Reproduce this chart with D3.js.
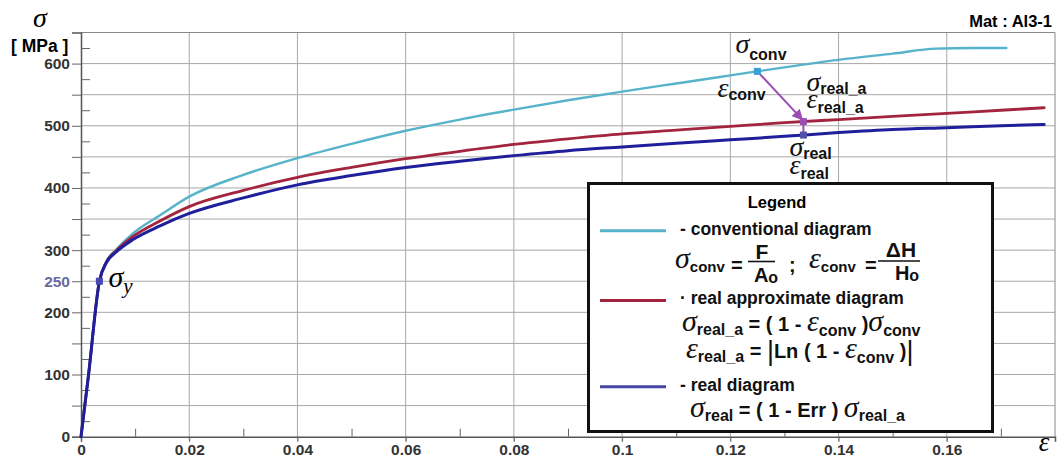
<!DOCTYPE html>
<html>
<head>
<meta charset="utf-8">
<script src="https://cdn.jsdelivr.net/npm/d3@7"></script>
<style>
  html, body { margin: 0; padding: 0; background: #fff; }
  svg { display: block; }
  .tick text { font-family: "Liberation Sans", Arial, sans-serif; font-weight: bold; font-size: 15.5px; fill: #333; }
  .gr { font-family: "Liberation Serif", "DejaVu Serif", serif; font-style: italic; }
  .sb { font-family: "Liberation Sans", Arial, sans-serif; font-weight: bold; }
  .sr { font-family: "Liberation Sans", Arial, sans-serif; font-weight: normal; }
</style>
</head>
<body>
<svg id="chart" width="1057" height="457"></svg>
<script>
// Strain (-) and stress (MPa) for the three diagrams of Al3-1
const strainConv = [0, 0.0014, 0.0034, 0.0047, 0.0065, 0.0096, 0.0146, 0.02, 0.03, 0.04, 0.05, 0.06, 0.07, 0.08, 0.09, 0.10, 0.11, 0.12, 0.13, 0.14, 0.15, 0.158, 0.165, 0.171];
const stressConv = [0, 100, 250, 282, 301, 327, 356, 386, 421, 448, 471, 492, 510, 526, 541, 555, 568, 581, 594, 606, 616, 624, 625, 625];

const strainRealA = [0, 0.0014, 0.0034, 0.0047, 0.0065, 0.0096, 0.0146, 0.02, 0.03, 0.04, 0.05, 0.06, 0.07, 0.08, 0.09, 0.10, 0.11, 0.12, 0.13, 0.14, 0.15, 0.16, 0.17, 0.178];
const stressRealA = [0, 100, 250, 281, 299, 322, 347, 370, 396, 417, 433, 447, 459, 470, 479, 487, 493, 499, 505, 510, 515, 520, 525, 529];

const strainReal = [0, 0.0014, 0.0034, 0.0047, 0.0065, 0.0096, 0.0146, 0.02, 0.03, 0.04, 0.05, 0.06, 0.07, 0.08, 0.09, 0.10, 0.11, 0.12, 0.13, 0.14, 0.15, 0.16, 0.17, 0.178];
const stressReal = [0, 100, 250, 280, 297, 317, 339, 359, 384, 405, 420, 433, 443, 452, 460, 466, 472, 477.5, 483, 489, 494, 497, 500, 502];

// Yield point and the conversion example
const yieldStrain = 0.0034, yieldStress = 250;
const convPointStrain = 0.125;
const realPointStrain = 0.1335;

// Axis ticks
const xTickLabels = [0, 0.02, 0.04, 0.06, 0.08, 0.1, 0.12, 0.14, 0.16];
const xMinorTicks = [0.01, 0.03, 0.05, 0.07, 0.09, 0.11, 0.13, 0.15, 0.17];
const xGrid = [0.02, 0.04, 0.06, 0.08, 0.1, 0.12, 0.14, 0.16];
const yTickLabels = [0, 100, 200, 250, 300, 400, 500, 600];
const yMajor = [0, 50, 100, 150, 200, 250, 300, 350, 400, 450, 500, 550, 600];
const yMinor = [25, 75, 125, 175, 225, 275, 325, 375, 425, 475, 525, 575, 625];

const C_CONV = "#57b3ca", C_REALA = "#a3243e", C_REAL = "#1f1f9c", C_ARROW = "#9b4db4";

const svg = d3.select("#chart");
const x = d3.scaleLinear().domain([0, 0.18]).range([81, 1055]);
const y = d3.scaleLinear().domain([0, 650]).range([436.7, 32.5]);

// grid
const grid = svg.append("g").attr("stroke", "#a8a8a8").attr("stroke-width", 1);
grid.selectAll(".vx").data(xGrid).join("line")
  .attr("x1", d => x(d)).attr("x2", d => x(d)).attr("y1", y(650)).attr("y2", y(0) + 5);
grid.selectAll(".hy").data(yMajor.slice(1)).join("line")
  .attr("x1", x(0)).attr("x2", x(0.18)).attr("y1", d => y(d)).attr("y2", d => y(d));
// frame top and right
svg.append("line").attr("x1", x(0)).attr("x2", x(0.18)).attr("y1", y(650)).attr("y2", y(650)).attr("stroke", "#888");
svg.append("line").attr("x1", x(0.18)).attr("x2", x(0.18)).attr("y1", y(650)).attr("y2", y(0)).attr("stroke", "#888");

// y axis
const fmt = d => d === 0 ? "0" : String(+d.toFixed(2));
const yAx = svg.append("g").attr("transform", `translate(${x(0)},0)`)
  .call(d3.axisLeft(y).tickValues(yMajor).tickSize(9).tickPadding(2)
    .tickFormat(d => yTickLabels.includes(d) ? d : ""));
yAx.select(".domain").attr("stroke", "#555").attr("stroke-width", 1.5);
yAx.selectAll(".tick line").attr("stroke", "#666");
yAx.selectAll(".tick text").filter(d => d === 250).style("fill", "#6a6a9e");
const yMin = svg.append("g").attr("transform", `translate(${x(0)},0)`)
  .call(d3.axisLeft(y).tickValues(yMinor).tickSize(-9).tickFormat(""));
yMin.select(".domain").remove();
yMin.selectAll(".tick line").attr("stroke", "#666");

// x axis
const xAx = svg.append("g").attr("transform", `translate(0,${y(0)})`)
  .call(d3.axisBottom(x).tickValues(xTickLabels).tickSize(5).tickPadding(2).tickFormat(fmt));
xAx.select(".domain").attr("stroke", "#555").attr("stroke-width", 1.5);
xAx.selectAll(".tick line").attr("stroke", "#666");
const xMin = svg.append("g").attr("transform", `translate(0,${y(0)})`)
  .call(d3.axisBottom(x).tickValues(xMinorTicks).tickSize(-8).tickFormat(""));
xMin.select(".domain").remove();
xMin.selectAll(".tick line").attr("stroke", "#666");

// axis titles
svg.append("text").attr("class", "gr").attr("x", 33).attr("y", 27).attr("font-size", 28).text("σ");
svg.append("text").attr("class", "sb").attr("x", 11).attr("y", 52).attr("font-size", 17.5).text("[ MPa ]");
svg.append("text").attr("class", "gr").attr("x", 1044).attr("y", 451).attr("text-anchor", "middle").attr("font-size", 27).text("ε");
svg.append("text").attr("class", "sb").attr("x", 1052).attr("y", 27).attr("text-anchor", "end").attr("font-size", 16.5).text("Mat : Al3-1");

// curves
const line = d3.line().x(d => x(d[0])).y(d => y(d[1])).curve(d3.curveMonotoneX);
const series = [
  { sx: strainConv, sy: stressConv, color: C_CONV, w: 2.4 },
  { sx: strainRealA, sy: stressRealA, color: C_REALA, w: 2.8 },
  { sx: strainReal, sy: stressReal, color: C_REAL, w: 3 }
];
series.forEach(s => {
  svg.append("path").datum(d3.zip(s.sx, s.sy))
    .attr("fill", "none").attr("stroke", s.color).attr("stroke-width", s.w)
    .attr("stroke-linejoin", "round").attr("stroke-linecap", "round")
    .attr("d", line);
});

function at(xs, ys, v) {
  const i = Math.max(1, d3.bisectLeft(xs, v));
  const t = (v - xs[i - 1]) / (xs[i] - xs[i - 1]);
  return ys[i - 1] + t * (ys[i] - ys[i - 1]);
}

// yield point
svg.append("rect").attr("x", x(yieldStrain) - 3.5).attr("y", y(yieldStress) - 3.5)
  .attr("width", 7).attr("height", 7).attr("fill", "#4848b0");
const sy = svg.append("text").attr("class", "gr").attr("x", x(yieldStrain) + 9).attr("y", y(yieldStress) + 6);
sy.append("tspan").attr("font-size", 30).text("σ");
sy.append("tspan").attr("font-size", 21).attr("dy", 6).text("y");

// conversion example: conventional -> real approximate -> real
const cx = x(convPointStrain), cy = y(at(strainConv, stressConv, convPointStrain));
const rx = x(realPointStrain), ry = y(at(strainRealA, stressRealA, realPointStrain));
const bx = x(realPointStrain), by = y(at(strainReal, stressReal, realPointStrain));
const defs = svg.append("defs");
defs.append("marker").attr("id", "ah").attr("viewBox", "0 0 10 10").attr("refX", 9).attr("refY", 5)
  .attr("markerWidth", 5.5).attr("markerHeight", 5.5).attr("orient", "auto")
  .append("path").attr("d", "M0,0L10,5L0,10z").attr("fill", C_ARROW);
svg.append("line").attr("x1", cx).attr("y1", cy).attr("x2", rx - 1).attr("y2", ry - 2)
  .attr("stroke", C_ARROW).attr("stroke-width", 2).attr("marker-end", "url(#ah)");
svg.append("line").attr("x1", rx).attr("y1", ry).attr("x2", bx).attr("y2", by)
  .attr("stroke", C_ARROW).attr("stroke-width", 2);
svg.append("rect").attr("x", cx - 3.5).attr("y", cy - 3.5).attr("width", 7).attr("height", 7).attr("fill", "#3a9fd6");
svg.append("rect").attr("x", rx - 3.5).attr("y", ry - 3.5).attr("width", 7).attr("height", 7).attr("fill", "#9b4db4");
svg.append("rect").attr("x", bx - 3.5).attr("y", by - 3.5).attr("width", 7).attr("height", 7).attr("fill", "#5050a8");

// formula writer: runs of [text, kind, baselineOffset, size]
const KIND = {
  g: { cls: "gr", size: 30 },
  s: { cls: "sb", size: 16 },
  o: { cls: "sb", size: 20 },
  t: { cls: "sb", size: 16 },
  b: { cls: "sr", size: 27 }
};
function write(g, x0, y0, runs, opts = {}) {
  const t = g.append("text").attr("x", x0).attr("y", y0).attr("fill", "#111");
  if (opts.anchor) t.attr("text-anchor", opts.anchor);
  let prev = 0;
  runs.forEach(([txt, k, off = 0, size]) => {
    const K = KIND[k];
    t.append("tspan").attr("class", K.cls).attr("font-size", size || K.size)
      .attr("dy", off - prev).style("white-space", "pre").text(txt);
    prev = off;
  });
  return t;
}

// annotation labels
const ann = svg.append("g");
write(ann, cx - 22, cy - 18, [["σ", "g", 0, 28], ["conv", "t", 7]]);
write(ann, cx - 40, cy + 26, [["ε", "g", 0, 28], ["conv", "t", 3]]);
write(ann, rx + 3, ry - 31, [["σ", "g", 0, 28], ["real_a", "t", 3]]);
write(ann, rx + 3, ry - 14, [["ε", "g", 0, 28], ["real_a", "t", 5]]);
write(ann, rx - 14, by + 21, [["σ", "g", 0, 28], ["real", "t", 3]]);
write(ann, rx - 14, by + 39, [["ε", "g", 0, 28], ["real", "t", 5]]);

// legend
const lg = svg.append("g");
lg.append("rect").attr("x", 588.5).attr("y", 183.5).attr("width", 404).attr("height", 248)
  .attr("fill", "#fff").attr("stroke", "#111").attr("stroke-width", 3);
lg.append("text").attr("class", "sb").attr("x", 777).attr("y", 208).attr("text-anchor", "middle")
  .attr("font-size", 16.5).text("Legend");

const legendRows = [
  { color: C_CONV, ly: 230.7, label: "- conventional diagram", ty: 235 },
  { color: C_REALA, ly: 300.5, label: "· real approximate diagram", ty: 304 },
  { color: "#4646a2", ly: 386.7, label: "- real diagram", ty: 391 }
];
legendRows.forEach(r => {
  lg.append("line").attr("x1", 600).attr("x2", 666).attr("y1", r.ly).attr("y2", r.ly)
    .attr("stroke", r.color).attr("stroke-width", 3);
  lg.append("text").attr("class", "sb").attr("x", 680).attr("y", r.ty).attr("font-size", 17.5)
    .attr("fill", "#111").text(r.label);
});

// σconv = F / Ao ;  εconv = ΔH / Ho
write(lg, 675, 268, [["σ", "g"], ["conv", "s", 4, 15]]);
write(lg, 731, 272, [["=", "o"]]);
lg.append("line").attr("x1", 748).attr("x2", 775).attr("y1", 261.5).attr("y2", 261.5).attr("stroke", "#111").attr("stroke-width", 1.6);
write(lg, 762, 259, [["F", "o", 0, 21]], { anchor: "middle" });
write(lg, 766, 282, [["A", "o"], ["o", "s", 1]], { anchor: "middle" });
write(lg, 789, 272, [[";", "o"]]);
write(lg, 809, 268, [["ε", "g"], ["conv", "s", 4, 15]]);
write(lg, 865, 272, [["=", "o"]]);
lg.append("line").attr("x1", 878).attr("x2", 920).attr("y1", 261).attr("y2", 261).attr("stroke", "#111").attr("stroke-width", 1.6);
write(lg, 901, 257, [["ΔH", "o", 0, 21]], { anchor: "middle" });
write(lg, 907, 280, [["H", "o"], ["o", "s", 1]], { anchor: "middle" });

// σreal_a = (1 - εconv) σconv
write(lg, 682, 331, [["σ", "g"], ["real_a", "s", 4], [" = ( 1 - ", "o"], ["ε", "g"], ["conv", "s", 5], [" )", "o"], ["σ", "g"], ["conv", "s", 5]]);
// εreal_a = |Ln(1 - εconv)|
write(lg, 686, 358, [["ε", "g"], ["real_a", "s", 4], [" = ", "o"], ["|", "b", 2], ["Ln ( 1 - ", "o"], ["ε", "g"], ["conv", "s", 5], [" )", "o"], ["|", "b", 2]]);
// σreal = (1 - Err) σreal_a
write(lg, 690, 417, [["σ", "g"], ["real", "s", 4], [" = ( 1 - Err ) ", "o"], ["σ", "g"], ["real_a", "s", 4]]);
</script>
</body>
</html>
